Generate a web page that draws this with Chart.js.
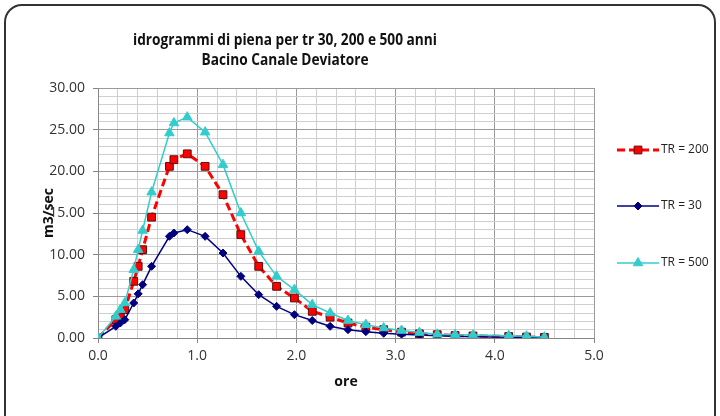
<!DOCTYPE html>
<html>
<head>
<meta charset="utf-8">
<script src="https://cdn.jsdelivr.net/npm/chart.js@4.4.1/dist/chart.umd.min.js"></script>
<style>
  body { margin: 0; background: #fff; }
  #box { position: relative; width: 720px; height: 416px; overflow: hidden; }
  #cornice { position: absolute; left: 4px; top: 4px; width: 708px; height: 430px;
    border: 2px solid #333; border-radius: 18px 18px 0 0; }
  canvas { position: absolute; left: 0; top: 0; }
</style>
</head>
<body>
<div id="box">
  <div id="cornice"></div>
  <canvas id="grafico" width="720" height="416"></canvas>
</div>
<script>
// ore (asse x) - manca il punto a 3.96
let ore = [0, 0.18, 0.225, 0.27, 0.36, 0.405, 0.45, 0.54, 0.72, 0.765, 0.9, 1.08, 1.26, 1.44, 1.62,
  1.8, 1.98, 2.16, 2.34, 2.52, 2.7, 2.88, 3.06, 3.24, 3.42, 3.6, 3.78, 4.14, 4.32, 4.5];

// portate m3/sec
let tr200 = [0, 2.2, 2.8, 3.4, 6.8, 8.6, 10.6, 14.5, 20.6, 21.4, 22.1, 20.6, 17.2, 12.4, 8.6,
  6.2, 4.8, 3.2, 2.5, 1.8, 1.3, 1.0, 0.7, 0.5, 0.4, 0.3, 0.25, 0.18, 0.12, 0.08];
let tr30 = [0, 1.4, 1.8, 2.2, 4.2, 5.3, 6.4, 8.6, 12.2, 12.6, 13.0, 12.2, 10.2, 7.4, 5.2,
  3.8, 2.8, 2.1, 1.4, 1.0, 0.76, 0.56, 0.46, 0.36, 0.28, 0.2, 0.16, 0.1, 0.08, 0.05];
let tr500 = [0, 2.6, 3.4, 4.2, 8.2, 10.6, 12.9, 17.5, 24.6, 25.8, 26.5, 24.7, 20.8, 15.0, 10.4,
  7.4, 5.8, 4.0, 3.0, 2.1, 1.6, 1.2, 0.9, 0.65, 0.45, 0.4, 0.35, 0.28, 0.22, 0.1];

let etichette = ['TR = 200', 'TR = 30', 'TR = 500'];
let titolo = ['idrogrammi di piena per tr 30, 200 e 500 anni', 'Bacino Canale Deviatore'];

let punti = (v) => ore.map((x, i) => ({ x: x, y: v[i] }));

let dati = {
  datasets: [
    {
      label: etichette[0], data: punti(tr200), order: 3,
      borderColor: '#ff0000', borderWidth: 3, borderDash: [8, 4],
      pointStyle: 'rect', pointRadius: 5.5, pointBackgroundColor: '#ff0000',
      pointBorderColor: '#5a1010', pointBorderWidth: 1
    },
    {
      label: etichette[1], data: punti(tr30), order: 2,
      borderColor: '#000080', borderWidth: 1.5,
      pointStyle: 'rectRot', pointRadius: 4, pointBackgroundColor: '#000080',
      pointBorderColor: '#000080', pointBorderWidth: 1
    },
    {
      label: etichette[2], data: punti(tr500), order: 1,
      borderColor: '#33cccc', borderWidth: 1.5,
      pointStyle: 'triangle', pointRadius: 5.5, pointBackgroundColor: '#33cccc',
      pointBorderColor: '#33cccc', pointBorderWidth: 1
    }
  ]
};

// titolo e legenda disegnati a mano
let extra = {
  id: 'extra',
  afterDraw(chart) {
    let ctx = chart.ctx;
    ctx.save();
    ctx.fillStyle = '#111';
    ctx.textAlign = 'center';
    ctx.textBaseline = 'middle';
    ctx.font = 'bold 16px "Open Sans"';
    let sx = 304 / ctx.measureText(titolo[0]).width;
    ctx.translate(285, 0);
    ctx.scale(sx, 1);
    ctx.fillText(titolo[0], 0, 40);
    ctx.fillText(titolo[1], 0, 60);
    ctx.restore();

    let yy = [150, 206, 263];
    chart.data.datasets.forEach((d, i) => {
      ctx.save();
      ctx.strokeStyle = d.borderColor;
      ctx.lineWidth = d.borderWidth;
      ctx.setLineDash(d.borderDash || []);
      ctx.beginPath();
      ctx.moveTo(617, yy[i]);
      ctx.lineTo(659, yy[i]);
      ctx.stroke();
      ctx.setLineDash([]);
      ctx.fillStyle = d.pointBackgroundColor;
      ctx.strokeStyle = d.pointBorderColor;
      ctx.lineWidth = d.pointBorderWidth;
      Chart.helpers.drawPoint(ctx, { pointStyle: d.pointStyle, radius: d.pointRadius, borderWidth: 1 }, 638, yy[i]);
      ctx.fillStyle = '#222';
      ctx.font = '12px "Open Sans"';
      ctx.textAlign = 'left';
      ctx.textBaseline = 'middle';
      ctx.fillText(d.label, 661, yy[i]);
      ctx.restore();
    });
  }
};

let maggiore = (v, passo) => Math.abs(v / passo - Math.round(v / passo)) < 1e-6;

let config = {
  type: 'scatter',
  data: dati,
  options: {
    responsive: false,
    animation: false,
    showLine: true,
    layout: { padding: { left: 0, top: 88, right: 126, bottom: 0 } },
    plugins: { legend: { display: false }, tooltip: { enabled: false } },
    scales: {
      x: {
        type: 'linear', min: 0, max: 5,
        afterFit: (s) => { s.height = 78; },
        ticks: {
          stepSize: 0.2, autoSkip: false, maxRotation: 0, padding: 5,
          color: '#333', font: { family: 'Open Sans', size: 14 },
          callback: (v) => maggiore(v, 1) ? v.toFixed(1) : ''
        },
        grid: {
          color: (c) => maggiore(c.tick.value, 1) ? '#9a9a9a' : '#cfcfcf',
          tickColor: (c) => maggiore(c.tick.value, 1) ? '#868686' : 'transparent',
          tickLength: 5
        },
        border: { color: '#868686' },
        title: { display: true, text: 'ore', color: '#111', font: { family: 'Open Sans', size: 14, weight: 'bold' }, padding: { bottom: 26 } }
      },
      y: {
        min: 0, max: 30,
        afterFit: (s) => { s.width = 98; },
        ticks: {
          stepSize: 1, autoSkip: false, padding: 8,
          color: '#333', font: { family: 'Open Sans', size: 14 },
          callback: (v) => maggiore(v, 5) ? v.toFixed(2) : ''
        },
        grid: {
          color: (c) => maggiore(c.tick.value, 5) ? '#9a9a9a' : '#cfcfcf',
          tickColor: (c) => maggiore(c.tick.value, 5) ? '#868686' : 'transparent',
          tickLength: 5
        },
        border: { color: '#868686' },
        title: { display: true, text: 'm3/sec', color: '#111', font: { family: 'Open Sans', size: 14, weight: 'bold' }, padding: { top: 41 } }
      }
    }
  },
  plugins: [extra]
};

let ctx = document.getElementById('grafico').getContext('2d');
new Chart(ctx, config);
</script>
</body>
</html>
